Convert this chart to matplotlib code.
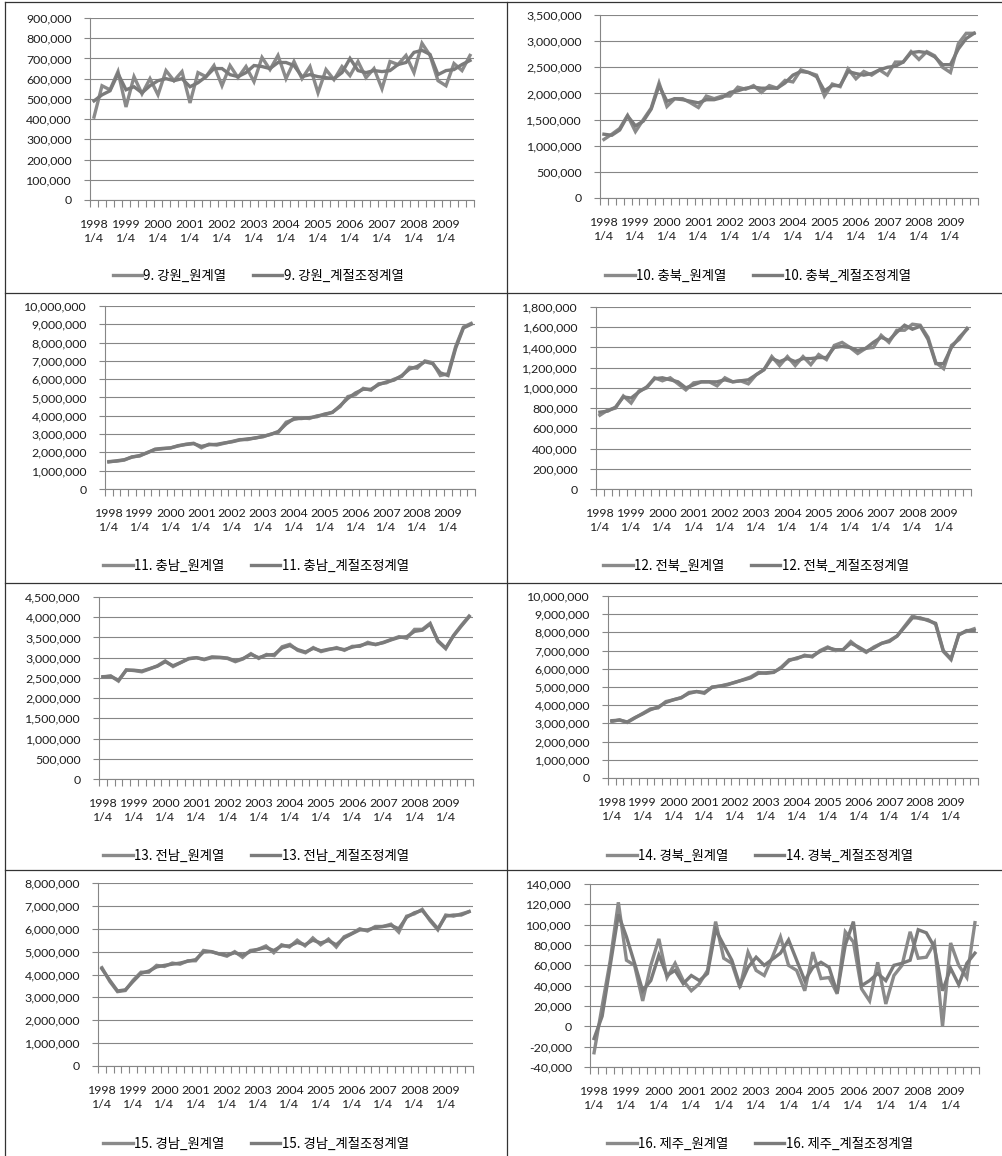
import matplotlib
matplotlib.use("Agg")
import matplotlib.pyplot as plt
from matplotlib.lines import Line2D
from matplotlib.ticker import FuncFormatter, FixedLocator, MultipleLocator

plt.rcParams["font.family"] = ["Lato", "Noto Sans CJK KR", "DejaVu Sans"]

W, H = 1002, 1156

# ---- quarters 1998 1/4 .. 2009 4/4 ----
years = list(range(1998, 2010))
year_labels = [f"{y}\n1/4" for y in years]

# ---- regional series (원계열 = raw, 계절조정계열 = seasonally adjusted) ----
gangwon_raw = [410, 565, 545, 635, 460, 610, 525, 600, 520, 640, 590, 635,
               480, 630, 610, 665, 565, 665, 605, 660, 585, 705, 645, 715,
               600, 685, 600, 660, 530, 645, 595, 660, 615, 685, 605, 650,
               550, 685, 670, 715, 630, 775, 715, 590, 565, 675, 640, 715]
gangwon_sa = [490, 520, 540, 625, 545, 560, 530, 565, 590, 600, 590, 600,
              560, 580, 610, 650, 650, 620, 610, 630, 665, 660, 650, 680,
              680, 665, 610, 620, 610, 605, 600, 630, 700, 640, 630, 640,
              635, 640, 670, 680, 730, 740, 720, 620, 640, 645, 670, 690]

chungbuk_raw = [1120, 1220, 1330, 1580, 1270, 1500, 1720, 2200, 1750, 1900, 1900, 1820,
                1730, 1950, 1900, 1950, 1950, 2120, 2080, 2150, 2020, 2150, 2100, 2250,
                2220, 2450, 2400, 2350, 1950, 2180, 2130, 2470, 2280, 2420, 2350, 2450,
                2350, 2600, 2600, 2800, 2650, 2800, 2720, 2500, 2400, 2950, 3150, 3150]
chungbuk_sa = [1220, 1200, 1300, 1570, 1380, 1470, 1700, 2150, 1850, 1900, 1880, 1850,
               1820, 1880, 1880, 1920, 2020, 2050, 2100, 2120, 2100, 2100, 2100, 2200,
               2350, 2420, 2400, 2320, 2050, 2150, 2150, 2420, 2380, 2350, 2380, 2450,
               2500, 2520, 2600, 2780, 2800, 2780, 2700, 2550, 2550, 2850, 3050, 3150]

chungnam_raw = [1500, 1520, 1580, 1760, 1800, 2000, 2150, 2200, 2250, 2350, 2450, 2500,
                2250, 2450, 2400, 2500, 2600, 2700, 2700, 2800, 2850, 3000, 3100, 3650,
                3800, 3900, 3850, 4000, 4050, 4200, 4500, 5050, 5150, 5500, 5400, 5750,
                5800, 6000, 6150, 6650, 6600, 7000, 6900, 6200, 6300, 7800, 8850, 9050]
chungnam_sa = [1480, 1540, 1600, 1740, 1830, 1980, 2180, 2220, 2240, 2370, 2430, 2480,
               2330, 2420, 2440, 2520, 2580, 2680, 2740, 2780, 2880, 2980, 3150, 3550,
               3850, 3850, 3900, 3950, 4100, 4180, 4550, 4950, 5250, 5450, 5450, 5700,
               5850, 5950, 6200, 6550, 6700, 6950, 6850, 6350, 6200, 7700, 8800, 9000]

jeonbuk_raw = [730, 780, 800, 920, 850, 970, 1000, 1100, 1070, 1100, 1040, 980,
               1050, 1060, 1060, 1020, 1100, 1060, 1070, 1040, 1130, 1180, 1310, 1220,
               1310, 1220, 1310, 1230, 1330, 1280, 1420, 1450, 1400, 1340, 1390, 1400,
               1520, 1450, 1570, 1570, 1630, 1620, 1500, 1250, 1190, 1420, 1480, 1590]
jeonbuk_sa = [760, 770, 810, 910, 900, 960, 1010, 1090, 1100, 1080, 1060, 1000,
              1030, 1060, 1060, 1060, 1080, 1060, 1070, 1080, 1130, 1180, 1290, 1260,
              1290, 1260, 1290, 1290, 1300, 1300, 1400, 1410, 1400, 1370, 1390, 1450,
              1500, 1470, 1550, 1620, 1580, 1610, 1480, 1240, 1240, 1400, 1500, 1580]

jeonnam_raw = [2520, 2550, 2420, 2700, 2680, 2650, 2720, 2800, 2920, 2780, 2880, 2980,
               3000, 2950, 3000, 3000, 2980, 2900, 2970, 3100, 2980, 3080, 3050, 3270,
               3330, 3180, 3120, 3250, 3150, 3200, 3250, 3180, 3280, 3280, 3380, 3320,
               3380, 3450, 3520, 3480, 3700, 3700, 3850, 3400, 3220, 3550, 3800, 4030]
jeonnam_sa = [2530, 2540, 2440, 2690, 2690, 2670, 2730, 2790, 2900, 2800, 2880, 2970,
              3000, 2960, 3020, 3010, 2990, 2920, 2980, 3080, 3000, 3060, 3080, 3240,
              3300, 3200, 3140, 3230, 3170, 3210, 3230, 3200, 3260, 3300, 3350, 3330,
              3370, 3440, 3500, 3520, 3650, 3680, 3830, 3420, 3240, 3540, 3780, 4010]

gyeongbuk_raw = [3100, 3200, 3050, 3300, 3550, 3800, 3850, 4200, 4300, 4400, 4700, 4750,
                 4650, 5000, 5050, 5150, 5250, 5400, 5550, 5800, 5750, 5800, 6100, 6500,
                 6550, 6750, 6650, 7000, 7200, 7000, 7050, 7500, 7150, 6900, 7200, 7400,
                 7550, 7800, 8350, 8900, 8750, 8700, 8450, 6950, 6500, 7900, 8050, 8200]
gyeongbuk_sa = [3150, 3180, 3080, 3320, 3520, 3750, 3900, 4150, 4300, 4420, 4650, 4750,
                4700, 4980, 5050, 5120, 5270, 5380, 5500, 5750, 5780, 5820, 6050, 6450,
                6600, 6700, 6700, 6950, 7150, 7050, 7050, 7400, 7200, 6950, 7150, 7400,
                7500, 7800, 8300, 8800, 8800, 8650, 8500, 7000, 6550, 7850, 8100, 8100]

gyeongnam_raw = [4300, 3700, 3250, 3300, 3750, 4100, 4100, 4400, 4350, 4500, 4450, 4600,
                 4600, 5050, 5000, 4900, 4800, 5000, 4750, 5050, 5100, 5250, 4950, 5300,
                 5200, 5500, 5250, 5600, 5300, 5550, 5200, 5650, 5800, 6000, 5900, 6100,
                 6100, 6200, 5850, 6550, 6650, 6850, 6350, 5950, 6600, 6550, 6650, 6750]
gyeongnam_sa = [4250, 3750, 3280, 3330, 3700, 4050, 4150, 4330, 4400, 4450, 4500, 4580,
                4650, 4980, 5000, 4900, 4850, 4950, 4850, 5000, 5100, 5180, 5050, 5250,
                5250, 5400, 5300, 5500, 5380, 5480, 5300, 5600, 5780, 5950, 5950, 6050,
                6100, 6150, 6000, 6500, 6700, 6800, 6400, 6000, 6550, 6600, 6600, 6750]

jeju_raw = [-26, 20, 65, 122, 65, 60, 25, 60, 86, 48, 62, 45,
            35, 42, 55, 103, 67, 62, 38, 73, 55, 50, 68, 88,
            60, 55, 35, 73, 47, 48, 32, 93, 83, 37, 25, 63,
            22, 50, 60, 93, 67, 68, 82, 0, 82, 60, 48, 102]
jeju_sa = [-12, 10, 60, 110, 88, 62, 35, 45, 70, 50, 55, 42,
           50, 45, 52, 95, 80, 65, 40, 58, 68, 60, 66, 72,
           85, 65, 45, 58, 63, 58, 33, 80, 103, 40, 45, 52,
           45, 60, 62, 65, 95, 92, 78, 35, 57, 41, 62, 72]

# (name, raw, sa, unit, ymin, ymax, step, axes box in px: left, top, right, bottom, cell center x, legend y)
panels = [
    ("9. 강원", gangwon_raw, gangwon_sa, 1000, 0, 900000, 100000, (90, 18, 474, 200), 258, 276),
    ("10. 충북", chungbuk_raw, chungbuk_sa, 1000, 0, 3500000, 500000, (600, 15, 978, 198), 758, 276),
    ("11. 충남", chungnam_raw, chungnam_sa, 1000, 0, 10000000, 1000000, (105, 306, 475, 489), 256, 566),
    ("12. 전북", jeonbuk_raw, jeonbuk_sa, 1000, 0, 1800000, 200000, (596, 307, 971, 489), 756, 566),
    ("13. 전남", jeonnam_raw, jeonnam_sa, 1000, 0, 4500000, 500000, (99, 597, 473, 779), 256, 856),
    ("14. 경북", gyeongbuk_raw, gyeongbuk_sa, 1000, 0, 10000000, 1000000, (608, 596, 978, 778), 760, 856),
    ("15. 경남", gyeongnam_raw, gyeongnam_sa, 1000, 0, 8000000, 1000000, (98, 883, 473, 1066), 256, 1144),
    ("16. 제주", jeju_raw, jeju_sa, 1000, -40000, 140000, 20000, (590, 884, 979, 1067), 760, 1144),
]

GRID = "#868686"
RAW_C = "#8a8a8a"
SA_C = "#7b7b7b"
TXT = "#1e1e1e"

fig = plt.figure(figsize=(W / 100, H / 100), dpi=100)
fmt = FuncFormatter(lambda v, p: f"{int(round(v)):,}")

for name, raw, sa, unit, ymin, ymax, step, (l, t, r, b), cx, ly in panels:
    ax = fig.add_axes([l / W, 1 - b / H, (r - l) / W, (b - t) / H])
    x = list(range(len(raw)))
    h1, = ax.plot(x, [v * unit for v in raw], color=RAW_C, lw=2.4, solid_joinstyle="miter", zorder=3)
    h2, = ax.plot(x, [v * unit for v in sa], color=SA_C, lw=2.4, solid_joinstyle="miter", zorder=3)
    ax.set_xlim(-0.5, len(raw) - 0.5)
    ax.set_ylim(ymin, ymax)
    ax.yaxis.set_major_locator(MultipleLocator(step))
    ax.yaxis.set_major_formatter(fmt)
    ax.yaxis.grid(True, color=GRID, lw=0.8)
    ax.set_axisbelow(True)
    for s in ("top", "right"):
        ax.spines[s].set_visible(False)
    for s in ("left", "bottom"):
        ax.spines[s].set_color(GRID)
        ax.spines[s].set_linewidth(0.8)
    ax.xaxis.set_major_locator(FixedLocator(list(range(0, len(raw), 4))))
    ax.set_xticklabels(year_labels, linespacing=1.3)
    ax.xaxis.set_minor_locator(FixedLocator([i - 0.5 for i in range(len(raw) + 1)]))
    ax.tick_params(axis="x", which="major", length=0, pad=14, labelsize=8.9, labelcolor=TXT)
    ax.tick_params(axis="x", which="minor", length=5, width=0.8, color=GRID)
    ax.tick_params(axis="y", length=4, width=0.8, color=GRID, pad=9, labelsize=8.9, labelcolor=TXT)
    fig.legend([h1, h2], [f"{name}_원계열", f"{name}_계절조정계열"],
               loc="center", bbox_to_anchor=(cx / W, 1 - ly / H), ncol=2, frameon=False,
               handlelength=2.2, handletextpad=0.1, columnspacing=2.0,
               prop={"family": ["Noto Sans CJK KR"], "size": 9.6})

# panel frame lines
BORDER = "#333333"
for yy in (2, 293, 583, 870):
    fig.add_artist(Line2D([5 / W, 1.0], [1 - yy / H, 1 - yy / H], transform=fig.transFigure,
                          color=BORDER, lw=0.9))
for xx in (5, 507):
    fig.add_artist(Line2D([xx / W, xx / W], [0, 1 - 2 / H], transform=fig.transFigure,
                          color=BORDER, lw=0.9))

fig.savefig("out.png", dpi=100, facecolor="white")
